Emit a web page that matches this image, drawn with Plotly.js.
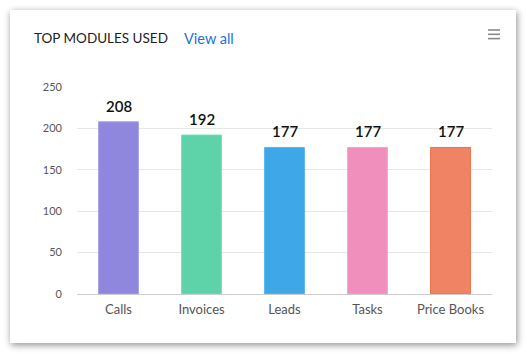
<!DOCTYPE html>
<html>
<head>
<meta charset="utf-8">
<script src="https://cdn.plot.ly/plotly-3.0.1.min.js"></script>
<style>
  html, body { margin:0; padding:0; background:#ffffff; width:526px; height:354px; overflow:hidden; }
  #card { position:absolute; left:10px; top:10px; width:506px; height:333px; background:#fff;
          box-shadow: 1px 2px 7px rgba(0,0,0,0.45); }
  #chart { position:absolute; left:0; top:0; width:526px; height:354px; }
</style>
</head>
<body>
<div id="card"></div>
<div id="chart"></div>
<script>
const categories = ["Calls", "Invoices", "Leads", "Tasks", "Price Books"];
const values = [208, 192, 177, 177, 177];
const barColors = ["#8F87DE", "#5ED3A9", "#3EA7E8", "#F08FBC", "#F08363"];
const barLineColors = ["#A7A0E8", "#7ADDB8", "#5AB4EC", "#F5A3C8", "#EE6F48"];
const yTicks = [0, 50, 100, 150, 200, 250];
const chartTitle = "TOP MODULES USED";
const linkText = "View all";

const FONT = "Lato, 'Open Sans', sans-serif";

const trace = {
  type: "bar",
  x: categories,
  y: values,
  width: 0.48,
  marker: { color: barColors, line: { color: barLineColors, width: 1 } },
  hoverinfo: "none"
};

const annotations = categories.map((c, i) => ({
  x: c, y: values[i], xref: "x", yref: "y",
  text: String(values[i]), showarrow: false,
  yanchor: "bottom", yshift: 5,
  font: { family: FONT, size: 15, color: "#111", weight: 600 }
}));
annotations.push({
  xref: "paper", yref: "paper", x: (182 - 77) / 415, y: (294 - 38) / 207,
  xanchor: "left", yanchor: "middle",
  text: linkText, showarrow: false,
  font: { family: FONT, size: 14.5, color: "#1a73d4" }
});

const shapes = [0, 1, 2].map(k => ({
  type: "line", xref: "paper", yref: "paper",
  x0: (488 - 77) / 415, x1: (500 - 77) / 415,
  y0: (294 - (30 + k * 4.3)) / 207, y1: (294 - (30 + k * 4.3)) / 207,
  line: { color: "#8a8a8a", width: 1.6 }
}));

const layout = {
  width: 526, height: 354,
  margin: { l: 77, r: 34, t: 87, b: 60, pad: 0 },
  paper_bgcolor: "rgba(0,0,0,0)",
  plot_bgcolor: "rgba(0,0,0,0)",
  showlegend: false,
  title: {
    text: chartTitle, xref: "container", yref: "container",
    x: 34 / 526, xanchor: "left", y: 1 - 38 / 354, yanchor: "middle",
    font: { family: FONT, size: 13.5, color: "#222" }
  },
  xaxis: {
    type: "category",
    showgrid: false, zeroline: false, showline: false, ticks: "",
    tickfont: { family: FONT, size: 13, color: "#555" },
    ticklabelstandoff: 6,
    fixedrange: true
  },
  yaxis: {
    range: [0, 250],
    tickvals: yTicks,
    showgrid: true, gridcolor: "#e6e6e6", gridwidth: 1,
    zeroline: true, zerolinecolor: "#cccccc", zerolinewidth: 1,
    showline: false, ticks: "",
    tickfont: { family: FONT, size: 11, color: "#555" },
    ticklabelstandoff: 14,
    fixedrange: true
  },
  annotations: annotations,
  shapes: shapes,
  font: { family: FONT }
};

Plotly.newPlot("chart", [trace], layout, { displayModeBar: false, staticPlot: true });
</script>
</body>
</html>
